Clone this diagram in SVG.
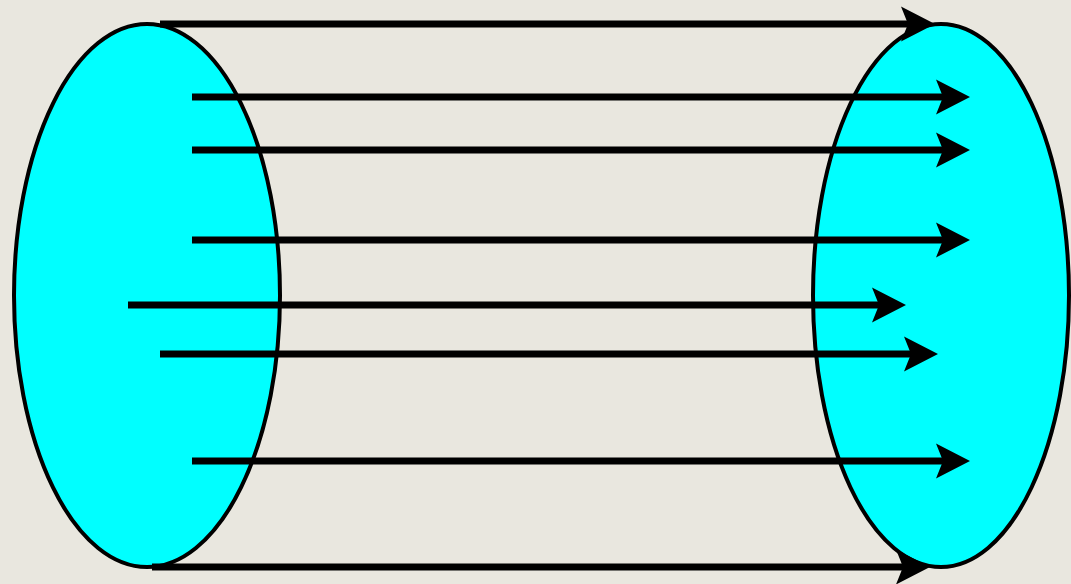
<svg xmlns="http://www.w3.org/2000/svg" width="1071" height="584" viewBox="0 0 1071 584">
<style>
.ell{fill:#00ffff;stroke:#000;stroke-width:4}
.arr{stroke:#000;stroke-width:7;fill:none;marker-end:url(#ah)}
</style>
<defs>
<marker id="ah" markerUnits="userSpaceOnUse" markerWidth="36" markerHeight="36" refX="7" refY="17.5" orient="auto" overflow="visible">
<path d="M0,0 L34,17.5 L0,35 L7,17.5 Z" fill="#000"/>
</marker>
</defs>
<rect width="1071" height="584" fill="#e9e7df"/>
<g id="left-set"><ellipse class="ell" cx="147" cy="295.5" rx="133" ry="271.5"/></g>
<g id="right-set"><ellipse class="ell" cx="941" cy="295.5" rx="128" ry="271.5"/></g>
<g id="connectors">
<line class="arr" x1="160" y1="24" x2="908" y2="24"/>
<line class="arr" x1="192" y1="97" x2="943" y2="97"/>
<line class="arr" x1="192" y1="150" x2="943" y2="150"/>
<line class="arr" x1="192" y1="240" x2="943" y2="240"/>
<line class="arr" x1="128" y1="305" x2="879" y2="305"/>
<line class="arr" x1="160" y1="354" x2="911" y2="354"/>
<line class="arr" x1="192" y1="461" x2="943" y2="461"/>
<line class="arr" x1="152" y1="567" x2="903" y2="567"/>
</g>
</svg>
